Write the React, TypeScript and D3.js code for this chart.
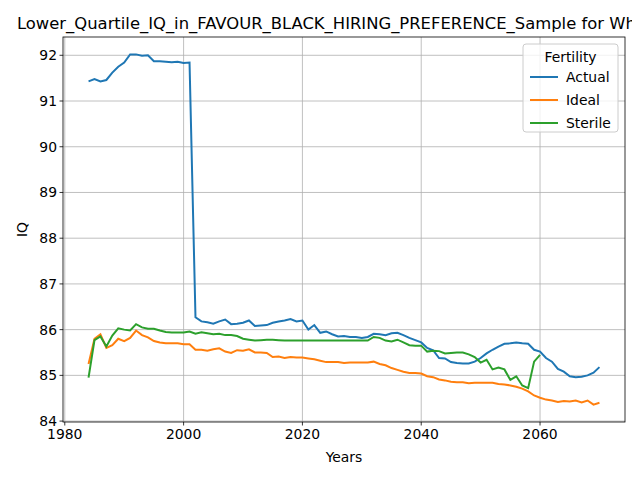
import React from "react";
import * as d3 from "d3";

const years = d3.range(1984, 2071);

const actual = [
  91.43, 91.48, 91.43, 91.46, 91.62, 91.75, 91.84, 92.02, 92.02, 91.99,
  92.0, 91.87, 91.87, 91.86, 91.85, 91.86, 91.83, 91.84, 86.27, 86.18,
  86.16, 86.13, 86.18, 86.22, 86.12, 86.13, 86.15, 86.2, 86.08, 86.09,
  86.1, 86.15, 86.18, 86.2, 86.23, 86.18, 86.2, 86.0, 86.1, 85.93,
  85.96, 85.9, 85.85, 85.86, 85.84, 85.84, 85.82, 85.84, 85.91, 85.9,
  85.88, 85.92, 85.93, 85.88, 85.82, 85.77, 85.72, 85.6, 85.55, 85.38,
  85.37, 85.29, 85.27, 85.26, 85.26, 85.3, 85.38, 85.48, 85.56, 85.63,
  85.69, 85.7, 85.72, 85.7, 85.69, 85.56, 85.52, 85.38, 85.3, 85.14,
  85.08, 84.98, 84.96, 84.97, 85.0, 85.06, 85.18,
];

const ideal = [
  85.25, 85.8, 85.9, 85.6, 85.66, 85.8, 85.75, 85.82, 85.98, 85.88,
  85.83, 85.75, 85.72, 85.7, 85.7, 85.7, 85.68, 85.68, 85.56, 85.56,
  85.54, 85.57, 85.59, 85.52, 85.49, 85.55, 85.54, 85.57, 85.5, 85.5,
  85.49, 85.4, 85.41, 85.38, 85.4, 85.39, 85.39, 85.37, 85.35, 85.32,
  85.29, 85.29, 85.29, 85.27, 85.28, 85.28, 85.28, 85.28, 85.3, 85.25,
  85.22, 85.16, 85.12, 85.08, 85.05, 85.05, 85.04, 84.98, 84.96, 84.91,
  84.89, 84.86, 84.85, 84.85, 84.83, 84.84, 84.84, 84.84, 84.84, 84.81,
  84.8, 84.78, 84.75, 84.71, 84.65, 84.56, 84.51, 84.47, 84.45, 84.42,
  84.44, 84.43, 84.45, 84.41, 84.45, 84.36, 84.4,
];

const sterile = [
  84.95, 85.77, 85.85, 85.63, 85.87, 86.03, 86.0, 85.98, 86.12, 86.05,
  86.02, 86.02, 85.98, 85.95, 85.94, 85.94, 85.94, 85.96, 85.91, 85.94,
  85.92, 85.9, 85.91, 85.88, 85.88, 85.86, 85.8, 85.78, 85.76, 85.77,
  85.78, 85.78, 85.77, 85.76, 85.76, 85.76, 85.76, 85.76, 85.76, 85.76,
  85.76, 85.76, 85.76, 85.76, 85.76, 85.76, 85.76, 85.76, 85.84, 85.82,
  85.76, 85.74, 85.78, 85.72, 85.66, 85.65, 85.65, 85.52, 85.54, 85.53,
  85.48, 85.49, 85.5, 85.5, 85.46, 85.4, 85.28, 85.34, 85.13, 85.17,
  85.13, 84.9, 84.98, 84.78, 84.72, 85.3, 85.45,
];

const series = [
  { name: "Actual", values: actual, color: "#1f77b4" },
  { name: "Ideal", values: ideal, color: "#ff7f0e" },
  { name: "Sterile", values: sterile, color: "#2ca02c" },
];

const xTicks = [1980, 2000, 2020, 2040, 2060];
const yTicks = [84, 85, 86, 87, 88, 89, 90, 91, 92];

const W = 640, H = 480;
const m = { left: 63, right: 625, top: 37, bottom: 422 };
const font = "DejaVu Sans, sans-serif";

export default function App() {
  const x = d3.scaleLinear().domain([1979.7, 2074.3]).range([m.left, m.right]);
  const y = d3.scaleLinear().domain([83.98, 92.4]).range([m.bottom, m.top]);

  const line = d3
    .line<number>()
    .x((_, i) => x(years[i]))
    .y((d) => y(d));

  return (
    <svg width={W} height={H} style={{ display: "block", margin: "-8px", fontFamily: font, overflow: "hidden" }}>
      <rect width={W} height={H} fill="white" />
      {xTicks.map((t) => (
        <g key={t}>
          <line x1={x(t)} x2={x(t)} y1={m.top} y2={m.bottom} stroke="#b0b0b0" strokeWidth={0.8} />
          <line x1={x(t)} x2={x(t)} y1={m.bottom} y2={m.bottom + 3.5} stroke="black" strokeWidth={0.8} />
          <text x={x(t)} y={m.bottom + 17} textAnchor="middle" fontSize={13.9}>{t}</text>
        </g>
      ))}
      {yTicks.map((t) => (
        <g key={t}>
          <line x1={m.left} x2={m.right} y1={y(t)} y2={y(t)} stroke="#b0b0b0" strokeWidth={0.8} />
          <line x1={m.left - 3.5} x2={m.left} y1={y(t)} y2={y(t)} stroke="black" strokeWidth={0.8} />
          <text x={m.left - 6} y={y(t) + 5} textAnchor="end" fontSize={13.9}>{t}</text>
        </g>
      ))}
      {series.map((s) => (
        <path key={s.name} d={line(s.values) || ""} fill="none" stroke={s.color} strokeWidth={2} />
      ))}
      <rect x={m.left} y={m.top} width={m.right - m.left} height={m.bottom - m.top} fill="none" stroke="black" strokeWidth={0.8} />
      <text x={17} y={29} fontSize={16.4}>Lower_Quartile_IQ_in_FAVOUR_BLACK_HIRING_PREFERENCE_Sample for White</text>
      <text x={(m.left + m.right) / 2} y={462} textAnchor="middle" fontSize={13.9}>Years</text>
      <text transform={`translate(27,${(m.top + m.bottom) / 2}) rotate(-90)`} textAnchor="middle" fontSize={13.9}>IQ</text>
      <g>
        <rect x={523} y={44} width={95} height={88} rx={3} fill="white" fillOpacity={0.8} stroke="#cccccc" />
        <text x={570.5} y={62} textAnchor="middle" fontSize={13.9}>Fertility</text>
        {series.map((s, i) => (
          <g key={s.name}>
            <line x1={530} x2={558} y1={77 + i * 23} y2={77 + i * 23} stroke={s.color} strokeWidth={2} />
            <text x={566} y={82 + i * 23} fontSize={13.9}>{s.name}</text>
          </g>
        ))}
      </g>
    </svg>
  );
}
